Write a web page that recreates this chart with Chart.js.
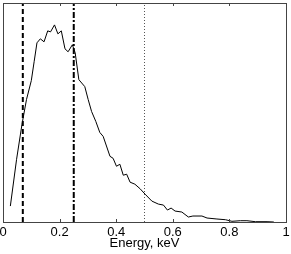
<!DOCTYPE html>
<html>
<head>
<meta charset="utf-8">
<script src="https://cdn.jsdelivr.net/npm/chart.js@4/dist/chart.umd.min.js"></script>
<style>
  html, body { margin: 0; padding: 0; background: #fff; }
  #wrap { width: 291px; height: 254px; }
</style>
</head>
<body>
<div id="wrap"><canvas id="spec"></canvas></div>
<script>
// spectrum (energy in keV, counts in arbitrary units)
const energy = [0.026, 0.048, 0.067, 0.083, 0.100, 0.110, 0.120, 0.132, 0.145, 0.158,
  0.168, 0.182, 0.194, 0.206, 0.219, 0.230, 0.245, 0.255, 0.268, 0.289,
  0.301, 0.313, 0.328, 0.342, 0.354, 0.378, 0.389, 0.401, 0.413, 0.425,
  0.437, 0.449, 0.466, 0.484, 0.502, 0.526, 0.549, 0.567, 0.581, 0.594,
  0.608, 0.632, 0.655, 0.671, 0.703, 0.721, 0.756, 0.786, 0.809, 0.839,
  0.862, 0.892, 0.933, 0.957];
const counts = [16, 63, 98, 123, 142, 161, 180, 184, 181, 192,
  191, 198, 189, 192, 174, 171, 178, 170, 143, 136,
  123, 111, 101, 90, 86, 66, 64, 56, 58, 47,
  48, 40, 38, 33.5, 28, 21, 18, 17, 12, 14,
  11, 10, 5, 6, 6, 4, 3, 2.3, 0.7, 1.3,
  1.3, 0.3, 0.3, 0];

// vertical marker lines
const cutLow = 0.07;
const cutHigh = 0.25;
const cutRef = 0.5;

const xTicks = [0, 0.2, 0.4, 0.6, 0.8, 1];
const yMax = 220;

function vline(x) {
  return [{ x: x, y: 0 }, { x: x, y: yMax }];
}

// frame + inward ticks like the original plot
const frame = {
  id: "frame",
  afterDraw(chart) {
    const ctx = chart.ctx;
    const a = chart.chartArea;
    const xs = chart.scales.x;
    ctx.save();
    ctx.strokeStyle = "#444";
    ctx.lineWidth = 1;
    ctx.strokeRect(Math.round(a.left) + 0.5, Math.round(a.top) + 0.5,
      Math.round(a.right - a.left), Math.round(a.bottom - a.top));
    ctx.beginPath();
    xTicks.forEach((t) => {
      const px = Math.round(xs.getPixelForValue(t)) + 0.5;
      ctx.moveTo(px, a.bottom);
      ctx.lineTo(px, a.bottom - 3);
      ctx.moveTo(px, a.top);
      ctx.lineTo(px, a.top + 3);
    });
    ctx.stroke();
    ctx.restore();
  },
};

const points = energy.map((e, i) => ({ x: e, y: counts[i] }));

new Chart(document.getElementById("spec"), {
  type: "line",
  data: {
    datasets: [
      {
        data: points,
        borderColor: "#000",
        borderWidth: 1,
        pointRadius: 0,
        tension: 0,
      },
      {
        data: vline(cutLow),
        borderColor: "#000",
        borderWidth: 2,
        borderDash: [5, 3],
        pointRadius: 0,
      },
      {
        data: vline(cutHigh),
        borderColor: "#000",
        borderWidth: 2,
        borderDash: [6, 2, 2, 2],
        pointRadius: 0,
      },
      {
        data: vline(cutRef),
        borderColor: "#555",
        borderWidth: 1,
        borderDash: [1, 2],
        pointRadius: 0,
      },
    ],
  },
  options: {
    responsive: true,
    maintainAspectRatio: false,
    animation: false,
    layout: { padding: { left: 3, right: 5, top: 3, bottom: 0 } },
    plugins: { legend: { display: false }, tooltip: { enabled: false } },
    scales: {
      x: {
        type: "linear",
        min: 0,
        max: 1,
        afterBuildTicks: (s) => { s.ticks = xTicks.map((v) => ({ value: v })); },
        afterFit: (s) => { s.paddingLeft = 0; s.paddingRight = 0; },
        grid: { display: false, drawTicks: false },
        border: { display: false },
        ticks: {
          color: "#000",
          padding: 4,
          maxRotation: 0,
          callback: (v) => String(v),
          font: { family: "Liberation Sans, Arial", size: 13, lineHeight: 1 },
        },
        title: {
          display: true,
          text: "Energy, keV",
          color: "#000",
          padding: { top: -6, bottom: 4 },
          font: { family: "Liberation Sans, Arial", size: 13, lineHeight: 1 },
        },
      },
      y: {
        display: false,
        min: 0,
        max: yMax,
      },
    },
  },
  plugins: [frame],
});
</script>
</body>
</html>
